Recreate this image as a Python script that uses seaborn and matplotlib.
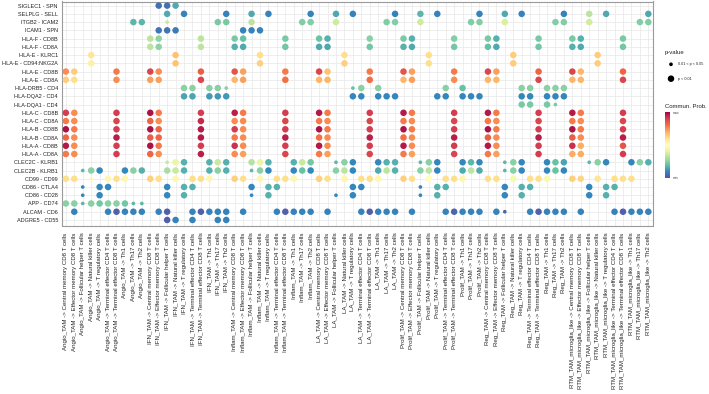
import numpy as np
import pandas as pd
import matplotlib
matplotlib.use("Agg")
import matplotlib.pyplot as plt
import matplotlib as mpl
import seaborn as sns

# ---------------- data ----------------
sources = ["Angio_TAM", "IFN_TAM", "Inflam_TAM", "LA_TAM", "Prolif_TAM", "Reg_TAM",
           "RTM_TAM_microglia_like"]
targets = ["Central memory CD8 T cells", "Effector memory CD8 T cells",
           "Follicular helper T cells", "Natural killer cells", "T regulatory cells",
           "Terminal effector CD4 T cells", "Terminal effector CD8 T cells",
           "Th1 cells", "Th17 cells", "Th2 cells"]
columns = [f"{s} -> {t}" for s in sources for t in targets]

pairs = ["SIGLEC1 - SPN", "SELPLG - SELL", "ITGB2 - ICAM2", "ICAM1 - SPN",
         "HLA-F - CD8B", "HLA-F - CD8A", "HLA-E - KLRC1", "HLA-E - CD94:NKG2A",
         "HLA-E - CD8B", "HLA-E - CD8A", "HLA-DRB5 - CD4", "HLA-DQA2 - CD4",
         "HLA-DQA1 - CD4", "HLA-C - CD8B", "HLA-C - CD8A", "HLA-B - CD8B",
         "HLA-B - CD8A", "HLA-A - CD8B", "HLA-A - CD8A", "CLEC2C - KLRB1",
         "CLEC2B - KLRB1", "CD99 - CD99", "CD86 - CTLA4", "CD86 - CD28",
         "APP - CD74", "ALCAM - CD6", "ADGRE5 - CD55"]

# communication probability (scaled 0=min .. 1=max), keyed by column index
siglec1_spn = {11: .06, 12: .06, 13: .16}
selplg_sell = {12: .16, 14: .09, 19: .09, 22: .16, 24: .09, 29: .09, 32: .16, 34: .09,
               39: .09, 42: .18, 44: .09, 49: .09, 52: .16, 54: .09, 59: .09, 62: .33,
               64: .16, 69: .16}
itgb2_icam2 = {8: .18, 9: .18, 12: .35, 18: .23, 19: .23, 22: .33, 28: .24, 29: .24,
               32: .36, 38: .24, 39: .24, 42: .36, 48: .24, 49: .24, 52: .38, 58: .24,
               59: .24, 62: .37, 68: .24, 69: .24}
icam1_spn = {11: .07, 12: .07, 13: .08, 21: .09, 22: .09, 23: .09}
hlaf_cd8b = {10: .33, 11: .26, 16: .33, 20: .23, 21: .2, 26: .23, 30: .21, 31: .17,
             36: .25, 40: .23, 41: .17, 46: .24, 50: .23, 51: .17, 56: .23, 60: .23,
             61: .17, 66: .23}
hlaf_cd8a = {10: .33, 11: .26, 16: .33, 20: .17, 21: .16, 26: .22, 30: .16, 31: .16,
             36: .22, 40: .17, 41: .16, 46: .22, 50: .2, 51: .16, 56: .22, 60: .17,
             61: .16, 66: .22}
hlae_klrc1 = {3: .58, 13: .66, 23: .6, 33: .6, 43: .6, 53: .64, 63: .64}
hlae_nkg2a = {3: .55, 13: .66, 23: .63, 33: .63, 43: .6, 53: .64, 63: .64}
hlae_cd8b = {0: .75, 1: .64, 6: .78, 10: .88, 11: .75, 16: .83, 20: .85, 21: .72,
             26: .78, 30: .88, 31: .66, 36: .78, 40: .85, 41: .72, 46: .78, 50: .88,
             51: .72, 56: .82, 60: .88, 61: .68, 66: .82}
hlae_cd8a = {0: .64, 1: .6, 6: .75, 10: .72, 11: .72, 16: .88, 20: .68, 21: .72,
             26: .8, 30: .68, 31: .68, 36: .8, 40: .68, 41: .72, 46: .75, 50: .68,
             51: .68, 56: .88, 60: .68, 61: .68, 66: .88}
hladrb5_cd4 = {14: .25, 15: .25, 17: .25, 18: .25, 19: .25, 34: .2, 35: .25, 37: .25,
               45: .25, 47: .2, 54: .25, 55: .25, 57: .25, 58: .25, 59: .25}
hladqa2_cd4 = {14: .15, 15: .15, 17: .13, 18: .13, 19: .13, 34: .1, 35: .1, 37: .1,
               38: .1, 39: .1, 44: .1, 45: .1, 47: .1, 48: .1, 49: .1, 54: .1, 55: .1,
               57: .1, 58: .1, 59: .1}
hladqa1_cd4 = {54: .23, 55: .23, 57: .23, 58: .23}
hlac_cd8b = {0: .9, 1: .75, 6: .9, 10: .97, 11: .78, 16: .9, 20: .95, 21: .78, 26: .9,
             30: .96, 31: .78, 36: .9, 40: .96, 41: .78, 46: .9, 50: .96, 51: .78,
             56: .9, 60: .96, 61: .78, 66: .9}
hlac_cd8a = {0: .78, 1: .75, 6: .88, 10: .82, 11: .75, 16: .93, 20: .75, 21: .75,
             26: .88, 30: .78, 31: .75, 36: .88, 40: .78, 41: .75, 46: .88, 50: .78,
             51: .75, 56: .88, 60: .78, 61: .75, 66: .88}
hlab_cd8b = {0: .97, 1: .78, 6: .9, 10: .97, 11: .82, 16: .96, 20: .9, 21: .75, 26: .9,
             30: .97, 31: .78, 36: .9, 40: .97, 41: .78, 46: .9, 50: .97, 51: .78,
             56: .9, 60: .97, 61: .78, 66: .9}
hlab_cd8a = {0: .82, 1: .75, 6: .95, 10: .83, 11: .82, 16: .96, 20: .78, 21: .75,
             26: .95, 30: .8, 31: .75, 36: .95, 40: .8, 41: .75, 46: .95, 50: .83,
             51: .75, 56: .95, 60: .83, 61: .75, 66: .95}
hlaa_cd8b = {0: .96, 1: .75, 6: .9, 10: .97, 11: .78, 16: .9, 20: .92, 21: .75, 26: .9,
             30: .96, 31: .75, 36: .9, 40: .96, 41: .75, 46: .9, 50: .96, 51: .75,
             56: .9, 60: .92, 61: .7, 66: .85}
hlaa_cd8a = {0: .78, 1: .75, 6: .9, 10: .82, 11: .75, 16: .95, 20: .75, 21: .72,
             26: .88, 30: .78, 31: .72, 36: .88, 40: .78, 41: .72, 46: .88, 50: .78,
             51: .72, 56: .9, 60: .7, 61: .7, 66: .9}
clec2c_klrb1 = {12: .35, 13: .42, 14: .17, 17: .17, 18: .35, 19: .17, 22: .32, 23: .42,
                24: .17, 27: .17, 28: .35, 29: .22, 32: .18, 33: .25, 34: .1, 37: .1,
                38: .17, 39: .17, 42: .18, 43: .25, 44: .1, 47: .1, 48: .18, 49: .1,
                52: .18, 53: .25, 54: .1, 57: .1, 58: .2, 59: .15, 62: .18, 63: .25,
                64: .1, 67: .1, 68: .25, 69: .17}
clec2b_klrb1 = {2: .18, 3: .25, 4: .1, 7: .1, 8: .25, 9: .17, 12: .3, 13: .35, 14: .17,
                17: .17, 18: .25, 19: .17, 22: .18, 23: .25, 24: .1, 27: .1, 28: .2,
                29: .1, 32: .25, 33: .33, 34: .1, 37: .16, 38: .33, 39: .17, 42: .25,
                43: .33, 44: .1, 47: .16, 48: .33, 49: .16, 52: .18, 53: .25, 54: .1,
                57: .1, 58: .2, 59: .1}
cd99_cd99 = {0: .6, 1: .6, 3: .52, 5: .53, 6: .6, 7: .53, 10: .63, 11: .6, 13: .53,
             15: .6, 16: .6, 17: .53, 20: .63, 21: .6, 23: .53, 25: .6, 26: .6,
             27: .53, 30: .63, 31: .6, 33: .53, 35: .6, 36: .6, 37: .53, 40: .63,
             41: .6, 43: .5, 45: .6, 46: .6, 47: .53, 50: .6, 51: .6, 53: .46,
             55: .6, 56: .6, 57: .46, 60: .63, 61: .62, 63: .58, 65: .6, 66: .6,
             67: .6}
cd86_ctla4 = {2: .1, 4: .1, 5: .1, 12: .1, 14: .17, 15: .17, 22: .1, 24: .17, 25: .17,
              34: .1, 35: .1, 42: .1, 44: .17, 45: .17, 52: .1, 54: .17, 55: .17,
              62: .1, 64: .17, 65: .17}
cd86_cd28 = {2: .1, 4: .1, 12: .1, 14: .17, 22: .1, 24: .17, 32: .1, 34: .1, 42: .1,
             44: .17, 52: .1, 54: .17, 62: .1, 64: .17}
app_cd74 = {0: .25, 1: .25, 2: .18, 3: .25, 4: .22, 5: .25, 6: .25, 7: .22, 8: .18,
            9: .18}
alcam_cd6 = {1: .09, 5: .09, 6: .03, 7: .09, 8: .09, 9: .09, 11: .09, 12: .03, 15: .09,
             16: .03, 17: .09, 18: .09, 19: .09, 21: .09, 25: .09, 26: .03, 27: .09,
             28: .09, 29: .09, 31: .09, 35: .09, 36: .03, 37: .09, 38: .09, 39: .09,
             41: .09, 45: .09, 46: .04, 47: .09, 48: .09, 49: .09, 51: .09, 52: .03,
             55: .09, 56: .03, 57: .09, 58: .09, 59: .09, 61: .09, 65: .09, 66: .03,
             67: .09, 68: .09, 69: .09}
adgre5_cd55 = {12: .03, 13: .09, 15: .09, 18: .09, 19: .09}

row_values = [siglec1_spn, selplg_sell, itgb2_icam2, icam1_spn, hlaf_cd8b, hlaf_cd8a,
              hlae_klrc1, hlae_nkg2a, hlae_cd8b, hlae_cd8a, hladrb5_cd4, hladqa2_cd4,
              hladqa1_cd4, hlac_cd8b, hlac_cd8a, hlab_cd8b, hlab_cd8a, hlaa_cd8b,
              hlaa_cd8a, clec2c_klrb1, clec2b_klrb1, cd99_cd99, cd86_ctla4, cd86_cd28,
              app_cd74, alcam_cd6, adgre5_cd55]

# cells with 0.01 < p < 0.05 (all others p < 0.01)
weak_cells = [("ITGB2 - ICAM2", 12), ("HLA-DRB5 - CD4", 19), ("HLA-DRB5 - CD4", 34),
              ("HLA-DQA1 - CD4", 58), ("CLEC2C - KLRB1", 12), ("CLEC2C - KLRB1", 32),
              ("CLEC2C - KLRB1", 42), ("CLEC2C - KLRB1", 52), ("CLEC2C - KLRB1", 62),
              ("CLEC2B - KLRB1", 2), ("CLEC2B - KLRB1", 22), ("CLEC2B - KLRB1", 52),
              ("CD99 - CD99", 3), ("CD86 - CTLA4", 2), ("CD86 - CTLA4", 42),
              ("CD86 - CD28", 2), ("CD86 - CD28", 22), ("CD86 - CD28", 32),
              ("CD86 - CD28", 42), ("APP - CD74", 2), ("APP - CD74", 8),
              ("APP - CD74", 9), ("ALCAM - CD6", 52)]

# ---------------- build table ----------------
recs = []
weak = set(weak_cells)
for r, (pair, vals) in enumerate(zip(pairs, row_values)):
    for c, v in vals.items():
        recs.append({"pair": pair, "row": r, "col": c, "prob": v,
                     "pval": "0.01 < p < 0.05" if (pair, c) in weak else "p < 0.01"})
df = pd.DataFrame(recs)

# ---------------- plot ----------------
sns.set_style("white")
plt.rcParams["font.family"] = ["Liberation Sans", "DejaVu Sans"]

W, H = 709, 394
fig = plt.figure(figsize=(W / 100, H / 100), dpi=100)
ax = fig.add_axes([62.3 / W, 1 - 225.5 / H, (652.7 - 62.3) / W, (225.5 - 1.5) / H])

BIG, SMALL = 22, 7
cmap = plt.get_cmap("Spectral_r")
sns.scatterplot(data=df, x="col", y="row", hue="prob", palette=cmap, hue_norm=(0, 1),
                size="pval", sizes={"p < 0.01": BIG, "0.01 < p < 0.05": SMALL},
                linewidth=0, legend=False, ax=ax, zorder=3)

ax.set_xticks(range(len(columns)))
ax.set_xticklabels(columns, rotation=90, fontsize=4.4, color="#222222")
ax.set_yticks(range(len(pairs)))
ax.set_yticklabels(pairs, fontsize=4.0, color="#222222")
ax.set_xlim(-0.42, len(columns) - 0.48)
ax.set_ylim(len(pairs) - 0.33, -0.5)
ax.set_xlabel("")
ax.set_ylabel("")
ax.grid(True, color="#e8e8e8", linewidth=0.5)
ax.set_axisbelow(True)
ax.tick_params(axis="both", length=1.6, width=0.5, color="#555555")
ax.tick_params(axis="x", pad=3.5)
ax.tick_params(axis="y", pad=1.5)
for s in ax.spines.values():
    s.set_visible(True)
    s.set_color("#9a9a9a")
    s.set_linewidth(0.8)

# ---------------- legends ----------------
fig.text(664.7 / W, 1 - 52.7 / H, "p-value", fontsize=4.3, va="center", ha="left",
         color="#222222")
lax = fig.add_axes([660 / W, 1 - 90 / H, 48 / W, 32 / H])
lax.set_xlim(0, 48)
lax.set_ylim(32, 0)
lax.axis("off")
lax.scatter([11, 11], [64.3 - 58, 78.7 - 58], s=[SMALL, BIG], color="black", linewidth=0)
lax.text(18.3, 64.3 - 58, "0.01 < p < 0.05", fontsize=2.7, va="center", color="#222222")
lax.text(18.3, 78.7 - 58, "p < 0.01", fontsize=2.7, va="center", color="#222222")

fig.text(664.7 / W, 1 - 106 / H, "Commun. Prob.", fontsize=4.3, va="center", ha="left",
         color="#222222")
cax = fig.add_axes([665 / W, 1 - 178.3 / H, 4.5 / W, (178.3 - 111.5) / H])
cb = mpl.colorbar.ColorbarBase(cax, cmap=cmap, norm=mpl.colors.Normalize(0, 1),
                               orientation="vertical")
cb.set_ticks([])
cb.outline.set_visible(False)
fig.text(673 / W, 1 - 112.7 / H, "max", fontsize=2.5, va="center", color="#444444")
fig.text(673 / W, 1 - 178.5 / H, "min", fontsize=2.5, va="center", color="#444444")

fig.savefig("out.png", dpi=100)
